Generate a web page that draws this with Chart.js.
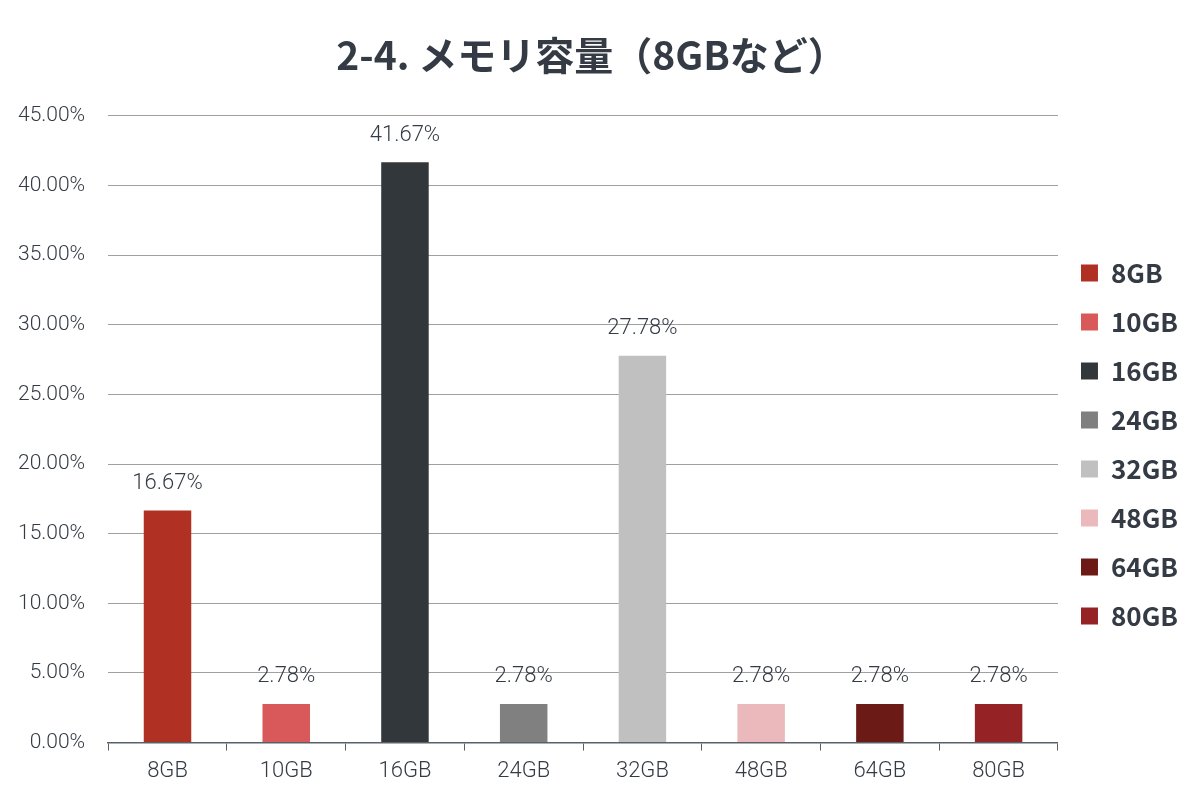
<!DOCTYPE html>
<html>
<head>
<meta charset="utf-8">
<script src="https://cdn.jsdelivr.net/npm/chart.js@4"></script>
<style>
html,body{margin:0;padding:0;background:#fff;}
#wrap{width:1200px;height:801px;}
</style>
</head>
<body>
<div id="wrap"><canvas id="c" width="1200" height="801"></canvas></div>
<script>
const categories = ['8GB','10GB','16GB','24GB','32GB','48GB','64GB','80GB'];
const values = [16.67, 2.78, 41.67, 2.78, 27.78, 2.78, 2.78, 2.78];
const colors = ['#B03024','#D9585A','#32373B','#808080','#C0C0C0','#EBB9BB','#6B1A16','#952326'];
const yTicks = [0,5,10,15,20,25,30,35,40,45];
const titleText = '2-4. メモリ容量（8GBなど）';
const textColor = '#343b45';
const tickFont = 'Roboto, "Noto Sans", sans-serif';

const labelPlugin = {
  id: 'barLabels',
  afterDatasetsDraw(chart) {
    const ctx = chart.ctx;
    const meta = chart.getDatasetMeta(0);
    ctx.save();
    ctx.font = '300 22px ' + tickFont;
    ctx.fillStyle = textColor;
    ctx.textAlign = 'center';
    ctx.textBaseline = 'middle';
    meta.data.forEach((bar, i) => {
      ctx.fillText(values[i].toFixed(2) + '%', bar.x, bar.y - 27);
    });
    ctx.restore();
  }
};

new Chart(document.getElementById('c'), {
  type: 'bar',
  data: {
    labels: categories,
    datasets: [{
      data: values,
      backgroundColor: colors,
      borderWidth: 0,
      barPercentage: 0.8,
      categoryPercentage: 0.5
    }]
  },
  options: {
    responsive: false,
    animation: false,
    layout: { padding: { left: -5, right: 12, top: 8, bottom: 8 } },
    plugins: {
      tooltip: { enabled: false },
      title: {
        display: true,
        text: titleText,
        color: textColor,
        font: { family: '"Noto Sans CJK JP", sans-serif', size: 39, weight: 'bold' },
        padding: { top: 24, bottom: 37 }
      },
      legend: {
        position: 'right',
        align: 'center',
        title: { display: true, text: ' ', font: { size: 10 }, padding: { top: 76, bottom: 0 } },
        labels: {
          color: textColor,
          font: { family: '"Noto Sans CJK JP", sans-serif', size: 26, weight: 'bold' },
          boxWidth: 17,
          boxHeight: 17,
          padding: 23,
          generateLabels(chart) {
            return categories.map((c, i) => ({
              text: c,
              fillStyle: colors[i],
              strokeStyle: colors[i],
              lineWidth: 0,
              hidden: false,
              index: i,
              fontColor: textColor
            }));
          }
        }
      }
    },
    scales: {
      x: {
        grid: { display: true, offset: true, drawOnChartArea: false, drawTicks: true, tickLength: 8, color: '#5a6068' },
        border: { display: true, color: '#5a6068', width: 1.5 },
        ticks: { color: textColor, font: { family: tickFont, size: 22, weight: '300' }, padding: 8 }
      },
      y: {
        min: 0, max: 45,
        afterBuildTicks(axis) { axis.ticks = yTicks.map(v => ({ value: v })); },
        grid: { color: '#a0a0a0', lineWidth: 1, drawTicks: false },
        border: { display: false },
        ticks: {
          color: textColor,
          font: { family: tickFont, size: 21, weight: '300' },
          padding: 23,
          callback: v => Number(v).toFixed(2) + '%'
        }
      }
    }
  },
  plugins: [labelPlugin]
});
</script>
</body>
</html>
